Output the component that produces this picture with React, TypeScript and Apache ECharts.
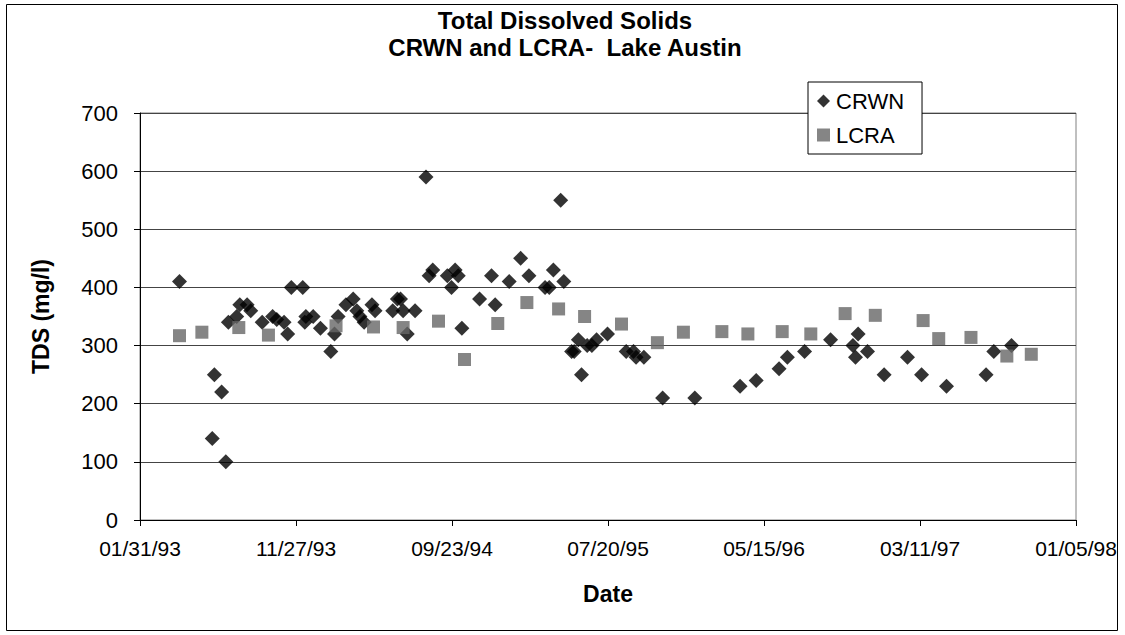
import React, { useEffect, useRef } from "react";
import * as echarts from "echarts";

const BASE_DATE = "1993-01-31";
const X_MAX_DAYS = 1800;
const X_INTERVAL_DAYS = 300;
const yTicks = [0, 100, 200, 300, 400, 500, 600, 700];

const crwnDates = [
  "1993-04-17", "1993-06-19", "1993-06-23", "1993-07-07", "1993-07-15", "1993-07-20",
  "1993-08-05", "1993-08-11", "1993-08-25", "1993-09-01", "1993-09-23", "1993-10-13",
  "1993-10-21", "1993-11-04", "1993-11-11", "1993-11-18", "1993-12-10", "1993-12-14",
  "1993-12-16", "1993-12-30", "1994-01-13", "1994-02-02", "1994-02-09", "1994-02-16",
  "1994-03-03", "1994-03-17", "1994-03-24", "1994-03-30", "1994-04-07", "1994-04-22",
  "1994-04-28", "1994-06-01", "1994-06-10", "1994-06-16", "1994-06-21", "1994-06-29",
  "1994-07-14", "1994-08-04", "1994-08-10", "1994-08-17", "1994-09-14", "1994-09-22",
  "1994-09-29", "1994-10-05", "1994-10-12", "1994-11-15", "1994-12-08", "1994-12-15",
  "1995-01-11", "1995-02-02", "1995-02-18", "1995-03-21", "1995-03-29", "1995-04-06",
  "1995-04-20", "1995-04-26", "1995-05-11", "1995-05-16", "1995-05-24", "1995-05-30",
  "1995-06-10", "1995-06-19", "1995-06-28", "1995-07-19", "1995-08-24", "1995-09-07",
  "1995-09-12", "1995-09-27", "1995-11-02", "1996-01-03", "1996-03-30", "1996-04-30",
  "1996-06-13", "1996-06-29", "1996-08-01", "1996-09-20", "1996-11-02", "1996-11-07",
  "1996-11-12", "1996-11-30", "1997-01-01", "1997-02-15", "1997-03-14", "1997-05-01",
  "1997-07-16", "1997-07-31", "1997-09-03",
];
const crwnValues = [
  410, 140, 250, 220, 100, 340,
  350, 370, 370, 360, 340, 350,
  345, 340, 320, 400, 400, 340,
  350, 350, 330, 290, 320, 350,
  370, 380, 360, 350, 340, 370,
  360, 360, 380, 380, 360, 320,
  360, 590, 420, 430, 420, 400,
  430, 420, 330, 380, 420, 370,
  410, 450, 420, 400, 400, 430,
  550, 410, 290, 290, 310, 250,
  300, 300, 310, 320, 290, 290,
  280, 280, 210, 210, 230, 240,
  260, 280, 290, 310, 300, 280,
  320, 290, 250, 280, 250, 230,
  250, 290, 300,
];

const lcraDates = [
  "1993-04-17", "1993-05-30", "1993-08-09", "1993-10-05", "1994-02-12", "1994-04-25",
  "1994-06-21", "1994-08-28", "1994-10-17", "1994-12-20", "1995-02-14", "1995-04-16",
  "1995-06-05", "1995-08-15", "1995-10-23", "1995-12-12", "1996-02-24", "1996-04-14",
  "1996-06-19", "1996-08-13", "1996-10-18", "1996-12-15", "1997-03-17", "1997-04-16",
  "1997-06-17", "1997-08-25", "1997-10-11",
];
const lcraValues = [
  317, 323, 331, 318, 334, 332,
  331, 342, 276, 338, 374, 363,
  350, 337, 305, 323, 324, 320,
  324, 320, 355, 352, 343, 312,
  314, 282, 285,
];

const DAY_MS = 86400000;
const baseMs = Date.parse(BASE_DATE + "T00:00:00Z");
const toDays = (d: string) => Math.round((Date.parse(d + "T00:00:00Z") - baseMs) / DAY_MS);
const pad = (n: number) => (n < 10 ? "0" + n : "" + n);
const fmtDate = (days: number) => {
  const dt = new Date(baseMs + days * DAY_MS);
  return pad(dt.getUTCMonth() + 1) + "/" + pad(dt.getUTCDate()) + "/" + pad(dt.getUTCFullYear() % 100);
};

const FONT = "'Liberation Sans', Arial, sans-serif";

export default function App() {
  const ref = useRef<HTMLDivElement>(null);
  useEffect(() => {
    document.body.style.margin = "0";
    if (!ref.current) return;
    const chart = echarts.init(ref.current, null, { renderer: "svg" });
    const crwnData = crwnDates.map((d, i) => [toDays(d), crwnValues[i]]);
    const lcraData = lcraDates.map((d, i) => [toDays(d), lcraValues[i]]);
    chart.setOption({
      animation: false,
      backgroundColor: "#ffffff",
      title: {
        text: "Total Dissolved Solids\nCRWN and LCRA-  Lake Austin",
        left: 560,
        textAlign: "center",
        top: 2,
        textStyle: {
          fontFamily: FONT,
          fontSize: 24,
          fontWeight: "bold",
          color: "#000",
          lineHeight: 27,
        },
      },
      legend: {
        orient: "vertical",
        left: 808,
        top: 82,
        padding: [8, 18, 8, 9],
        itemGap: 12,
        itemWidth: 13,
        itemHeight: 13,
        backgroundColor: "#ffffff",
        borderColor: "#000",
        borderWidth: 1,
        textStyle: { fontFamily: FONT, fontSize: 22, color: "#000", padding: [0, 0, 0, 1] },
        data: [
          { name: "CRWN", icon: "diamond" },
          { name: "LCRA", icon: "rect" },
        ],
      },
      grid: {
        left: 140,
        right: 49,
        top: 113,
        bottom: 115,
        show: true,
        borderColor: "#808080",
        borderWidth: 1,
      },
      xAxis: {
        type: "value",
        min: 0,
        max: X_MAX_DAYS,
        interval: X_INTERVAL_DAYS,
        name: "Date",
        nameLocation: "middle",
        nameGap: 62,
        nameTextStyle: { fontFamily: FONT, fontSize: 23, fontWeight: "bold", color: "#000" },
        axisLine: { show: true, lineStyle: { color: "#000", width: 1 } },
        axisTick: { show: true, inside: false, length: 6, lineStyle: { color: "#000" } },
        axisLabel: {
          fontFamily: FONT,
          fontSize: 21,
          color: "#000",
          margin: 18,
          formatter: (v: number) => fmtDate(v),
        },
        splitLine: { show: false },
      },
      yAxis: {
        type: "value",
        min: yTicks[0],
        max: yTicks[yTicks.length - 1],
        interval: yTicks[1] - yTicks[0],
        name: "TDS (mg/l)",
        nameLocation: "middle",
        nameGap: 88,
        nameTextStyle: { fontFamily: FONT, fontSize: 23, fontWeight: "bold", color: "#000" },
        axisLine: { show: true, lineStyle: { color: "#000", width: 1 } },
        axisTick: { show: true, inside: false, length: 6, lineStyle: { color: "#000" } },
        axisLabel: { fontFamily: FONT, fontSize: 22, color: "#000", margin: 22 },
        splitLine: { show: true, lineStyle: { color: "#444", width: 1 } },
      },
      series: [
        {
          name: "CRWN",
          type: "scatter",
          symbol: "diamond",
          symbolSize: [15, 15],
          itemStyle: { color: "#000000" },
          data: crwnData,
          z: 3,
        },
        {
          name: "LCRA",
          type: "scatter",
          symbol: "rect",
          symbolSize: [13, 13],
          itemStyle: { color: "#666666" },
          data: lcraData,
          z: 4,
        },
      ],
      graphic: [
        {
          type: "rect",
          shape: { x: 6.5, y: 4.5, width: 1111, height: 626 },
          style: { fill: "none", stroke: "#000", lineWidth: 1 },
          silent: true,
        },
      ],
    });
    return () => chart.dispose();
  }, []);
  return <div ref={ref} style={{ width: 1125, height: 635 }} />;
}
